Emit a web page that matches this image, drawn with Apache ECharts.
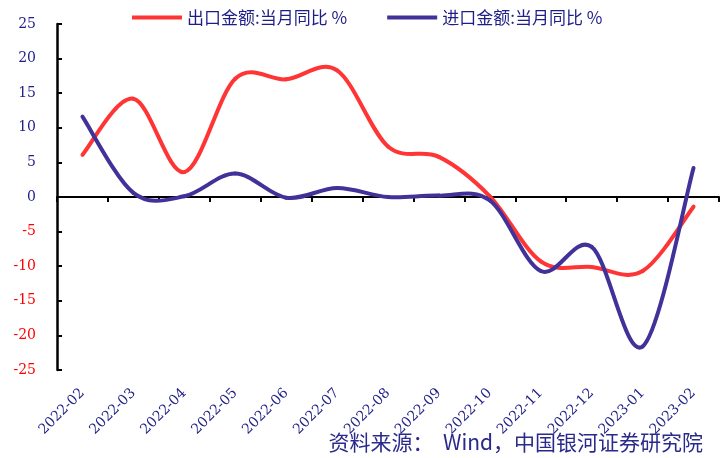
<!DOCTYPE html>
<html>
<head>
<meta charset="utf-8">
<script src="https://cdn.jsdelivr.net/npm/echarts@6/dist/echarts.min.js"></script>
<style>
  html, body { margin: 0; padding: 0; background: #ffffff; }
  #chart { width: 720px; height: 458px; }
</style>
</head>
<body>
<div id="chart"></div>
<script>
// Monthly categories
const months = ['2022-02', '2022-03', '2022-04', '2022-05', '2022-06', '2022-07', '2022-08',
  '2022-09', '2022-10', '2022-11', '2022-12', '2023-01', '2023-02'];

// Year-on-year change, %
const exportYoY = [6.1, 14.2, 3.6, 17.1, 17.0, 18.3, 7.3, 5.8, 0.1, -9.3, -10.1, -10.7, -1.4];
const importYoY = [11.6, 0.6, 0.1, 3.4, -0.1, 1.3, 0.0, 0.2, -0.5, -10.7, -7.2, -21.6, 4.2];

// Value axis ticks
const yMin = -25, yMax = 25, yStep = 5;

const seriesNames = ['出口金额:当月同比 %', '进口金额:当月同比 %'];
const sourceNote = '资料来源：  Wind，中国银河证券研究院';

const navy = '#1e1e87';
const redLine = '#ff3535';
const blueLine = '#41329a';
const serif = 'DejaVu Serif';

// Smooth curve through every point: cubic Bezier segments whose tangents
// follow the neighbouring points (Catmull-Rom style, factor 1/6).
function smoothSeries(name, values, color) {
  return {
    name: name,
    type: 'custom',
    xAxisIndex: 0,
    yAxisIndex: 0,
    data: values.map(function (v, i) { return [i, v]; }),
    itemStyle: { color: color },
    encode: { x: 0, y: 1 },
    renderItem: function (params, api) {
      const i = params.dataIndex;
      const n = values.length;
      if (i >= n - 1) return null;
      const pt = function (k) {
        k = Math.max(0, Math.min(n - 1, k));
        return api.coord([k, values[k]]);
      };
      const p0 = pt(i - 1), p1 = pt(i), p2 = pt(i + 1), p3 = pt(i + 2);
      return {
        type: 'bezierCurve',
        shape: {
          x1: p1[0], y1: p1[1], x2: p2[0], y2: p2[1],
          cpx1: p1[0] + (p2[0] - p0[0]) / 6, cpy1: p1[1] + (p2[1] - p0[1]) / 6,
          cpx2: p2[0] - (p3[0] - p1[0]) / 6, cpy2: p2[1] - (p3[1] - p1[1]) / 6
        },
        style: { stroke: color, lineWidth: 4, fill: null, lineCap: 'round' }
      };
    }
  };
}

const chart = echarts.init(document.getElementById('chart'), null, { renderer: 'canvas' });

chart.setOption({
  animation: false,
  backgroundColor: '#ffffff',
  grid: { left: 57, right: 1, top: 24, bottom: 88, containLabel: false },
  legend: {
    left: 127, top: 4,
    itemWidth: 50, itemHeight: 4, itemGap: 40, itemTextGap: 9,
    icon: 'rect',
    textStyle: { fontFamily: 'Noto Sans CJK SC', fontSize: 17, color: navy },
    data: seriesNames
  },
  xAxis: [
    {
      type: 'category', data: months, position: 'bottom', boundaryGap: true,
      axisLine: { show: false, onZero: false },
      axisTick: { show: false },
      axisLabel: {
        rotate: 45, margin: 21, interval: 0,
        fontFamily: serif, fontSize: 14, color: navy
      },
      splitLine: { show: false }
    },
    {
      type: 'category', data: months, boundaryGap: true,
      axisLine: { show: true, onZero: true, lineStyle: { color: '#000', width: 2 } },
      axisTick: { show: true, inside: true, length: 5, interval: 0, lineStyle: { color: '#000', width: 2 } },
      axisLabel: { show: false },
      splitLine: { show: false }
    }
  ],
  yAxis: {
    type: 'value', min: yMin, max: yMax, interval: yStep,
    axisLine: { show: true, lineStyle: { color: '#000', width: 2.5 } },
    axisTick: { show: true, inside: true, length: 5, lineStyle: { color: '#000', width: 2 } },
    splitLine: { show: false },
    axisLabel: {
      margin: 21,
      fontFamily: serif, fontSize: 14,
      color: function (v) { return Number(v) < 0 ? '#ff0000' : navy; }
    }
  },
  series: [
    smoothSeries(seriesNames[0], exportYoY, redLine),
    smoothSeries(seriesNames[1], importYoY, blueLine)
  ],
  graphic: [
    {
      type: 'text', right: 17, top: 432,
      style: { text: sourceNote, font: '21px "Noto Sans CJK SC"', fill: '#2a2a8c' }
    }
  ]
});
</script>
</body>
</html>
